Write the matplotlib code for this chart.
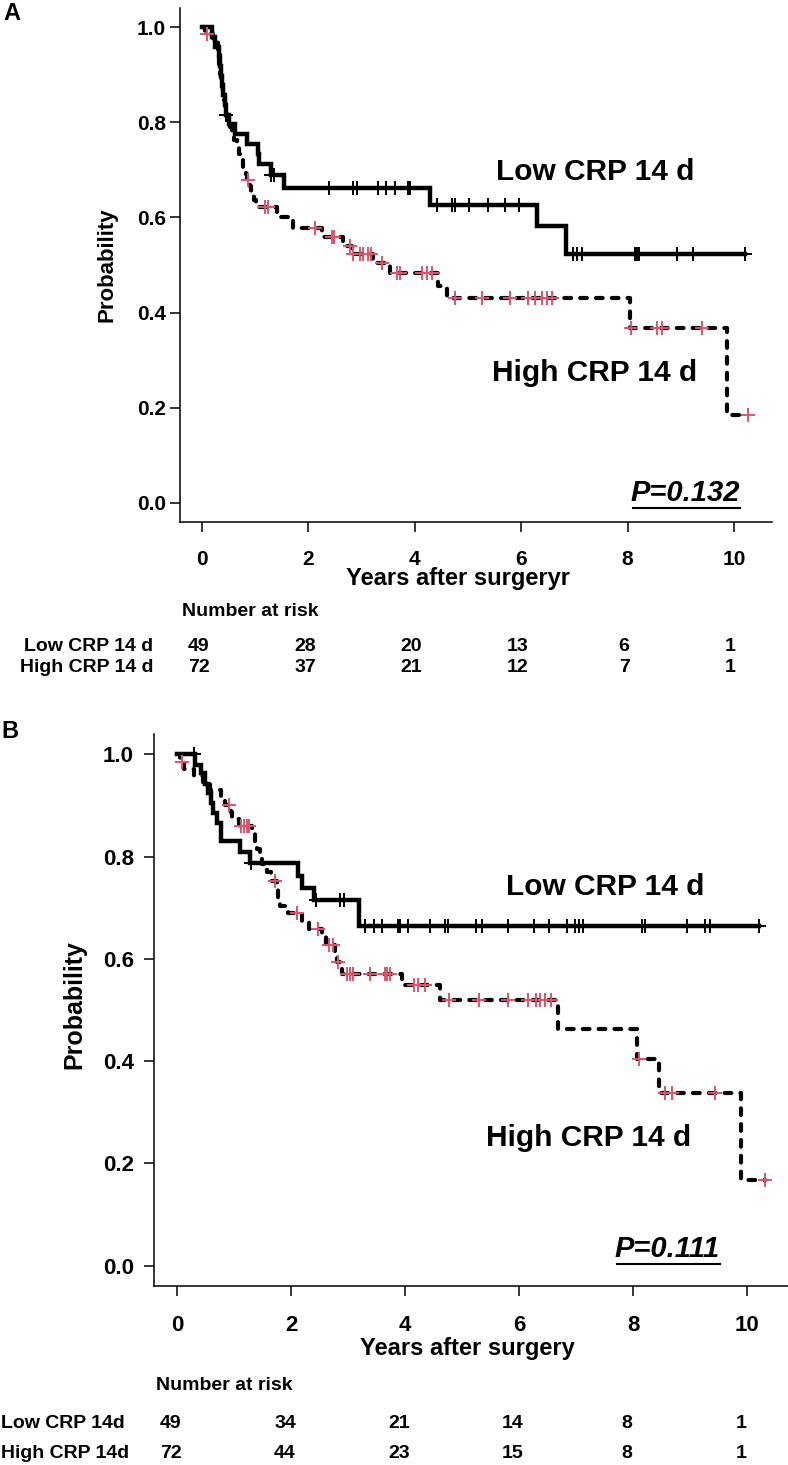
import numpy as np
import matplotlib
matplotlib.use("Agg")
import matplotlib.pyplot as plt
from matplotlib.lines import Line2D

plt.rcParams['font.family'] = ['Liberation Sans', 'DejaVu Sans']
plt.rcParams['font.weight'] = 'bold'

# ---------------- data ----------------
# Panel A
lowA_t = [0, 0.18, 0.25, 0.32, 0.34, 0.36, 0.38, 0.40, 0.43, 0.46, 0.50, 0.63, 0.85, 1.05, 1.08, 1.29, 1.55, 4.29, 6.30, 6.84]
lowA_s = [1.0, 0.980, 0.959, 0.939, 0.918, 0.898, 0.878, 0.857, 0.837, 0.816, 0.796, 0.776, 0.755, 0.733, 0.712, 0.690, 0.662, 0.627, 0.582, 0.523]
lowA_c = [0.46, 1.29, 1.35, 2.39, 2.83, 2.91, 3.31, 3.45, 3.63, 3.87, 3.91, 4.41, 4.69, 4.76, 5.02, 5.38, 5.70, 5.96,
          6.98, 7.04, 7.14, 8.14, 8.18, 8.22, 8.92, 9.22, 10.21]

highA_t = [0, 0.05, 0.20, 0.30, 0.31, 0.32, 0.33, 0.345, 0.36, 0.375, 0.39, 0.41, 0.43, 0.45, 0.48, 0.52, 0.56, 0.60,
           0.65, 0.70, 0.74, 0.78, 0.82, 0.85, 0.90, 0.93, 0.98, 1.02, 1.42, 1.72, 2.25, 2.66, 2.82, 3.21, 3.53, 4.44,
           4.60, 8.05, 9.86]
highA_s = [1.0, 0.986, 0.972, 0.958, 0.944, 0.930, 0.916, 0.902, 0.888, 0.874, 0.860, 0.846, 0.832, 0.818, 0.804,
           0.790, 0.776, 0.762, 0.748, 0.734, 0.720, 0.706, 0.692, 0.679, 0.665, 0.651, 0.636, 0.622, 0.600, 0.577,
           0.558, 0.540, 0.523, 0.504, 0.483, 0.456, 0.430, 0.367, 0.185]
highA_c = [0.09, 0.87, 1.18, 1.25, 2.12, 2.44, 2.48, 2.78, 2.84, 2.97, 3.02, 3.13, 3.17, 3.38, 3.67, 3.73, 4.13, 4.22,
           4.32, 4.76, 5.26, 5.79, 6.13, 6.26, 6.39, 6.48, 6.57, 8.06, 8.55, 8.64, 9.39, 10.27]

# Panel B
lowB_t = [0, 0.32, 0.43, 0.49, 0.55, 0.60, 0.64, 0.70, 0.77, 1.10, 1.28, 2.13, 2.19, 2.40, 3.19]
lowB_s = [1.0, 0.980, 0.963, 0.943, 0.925, 0.905, 0.885, 0.865, 0.830, 0.810, 0.788, 0.762, 0.739, 0.716, 0.664]
lowB_c = [0.29, 1.30, 2.43, 2.86, 2.93, 3.30, 3.46, 3.60, 3.88, 3.92, 4.06, 4.43, 4.70, 4.76, 5.25, 5.35, 5.80,
          6.27, 6.53, 6.84, 6.98, 7.05, 7.13, 8.15, 8.21, 8.94, 9.26, 9.35, 10.21]

highB_t = [0, 0.05, 0.12, 0.29, 0.46, 0.58, 0.78, 0.84, 0.94, 0.97, 1.08, 1.32, 1.36, 1.40, 1.45, 1.50, 1.58, 1.65,
           1.75, 1.77, 1.80, 1.95, 2.19, 2.32, 2.55, 2.62, 2.78, 2.81, 2.90, 3.94, 4.61, 6.69, 8.07, 8.46, 9.89]
highB_s = [1.0, 0.986, 0.972, 0.958, 0.944, 0.930, 0.916, 0.902, 0.888, 0.874, 0.860, 0.845, 0.830, 0.815, 0.800,
           0.785, 0.770, 0.752, 0.735, 0.718, 0.703, 0.690, 0.674, 0.659, 0.643, 0.627, 0.610, 0.593, 0.571, 0.548,
           0.520, 0.462, 0.405, 0.337, 0.168]
highB_c = [0.08, 0.91, 1.12, 1.17, 1.22, 1.27, 1.72, 2.10, 2.48, 2.67, 2.74, 2.83, 2.98, 3.04, 3.09, 3.39, 3.65,
           3.69, 3.74, 4.15, 4.23, 4.35, 4.78, 5.29, 5.81, 6.16, 6.30, 6.37, 6.46, 6.56, 8.10, 8.56, 8.68, 9.44, 10.32]

x_ticks = [0, 2, 4, 6, 8, 10]
y_ticks = [0.0, 0.2, 0.4, 0.6, 0.8, 1.0]
group_labels = ["Low CRP 14 d", "High CRP 14 d"]
risk_labels_A = ["Low CRP 14 d", "High CRP 14 d"]
risk_labels_B = ["Low CRP 14d", "High CRP 14d"]
riskA_low = [49, 28, 20, 13, 6, 1]
riskA_high = [72, 37, 21, 12, 7, 1]
riskB_low = [49, 34, 21, 14, 8, 1]
riskB_high = [72, 44, 23, 15, 8, 1]
p_A = "P=0.132"
p_B = "P=0.111"
xlabel_A = "Years after surgeryr"
xlabel_B = "Years after surgery"

PINK = "#DF536B"
W, H = 788, 1465

fig = plt.figure(figsize=(W / 100, H / 100), dpi=100)


def fx(px):
    return px / W


def fy(py):
    return 1 - py / H


def add_axes_px(left, right, top, bottom):
    return fig.add_axes([fx(left), fy(bottom), (right - left) / W, (bottom - top) / H])


def draw_km(ax, t, s, c, solid, censor_color):
    t = np.asarray(t, float)
    s = np.asarray(s, float)
    c = np.asarray(c, float)
    tend = max(t[-1], c.max())
    tt = np.append(t, tend)
    ss = np.append(s, s[-1])
    if solid:
        ax.step(tt, ss, where='post', color='black', lw=3.2, solid_joinstyle='miter', zorder=3)
    else:
        ax.step(tt, ss, where='post', color='black', lw=3.0, linestyle=(0, (1.6, 2.2)),
                dash_capstyle='round', dash_joinstyle='round', zorder=2)
    idx = np.searchsorted(t, c, side='right') - 1
    ax.plot(c, s[idx], linestyle='none', marker='+', markersize=9.5, markeredgewidth=1.4,
            color=censor_color, zorder=4)


def style_axes(ax, tick_fs, ypad, xpad):
    ax.set_xlim(-0.412, 10.712)
    ax.set_ylim(-0.04, 1.04)
    for sp in ['top', 'right']:
        ax.spines[sp].set_visible(False)
    for sp in ['left', 'bottom']:
        ax.spines[sp].set_linewidth(1.1)
    ax.set_xticks(x_ticks)
    ax.set_xticklabels([str(v) for v in x_ticks])
    ax.set_yticks(y_ticks)
    ax.set_yticklabels([f"{v:.1f}" for v in y_ticks])
    ax.tick_params(axis='both', direction='out', length=7, width=1.1, labelsize=tick_fs)
    ax.tick_params(axis='y', pad=ypad)
    ax.tick_params(axis='x', pad=xpad)


# ---------------- Panel A ----------------
axA = add_axes_px(180, 772, 8, 522)
style_axes(axA, 15, 3, 13)
draw_km(axA, highA_t, highA_s, highA_c, False, PINK)
draw_km(axA, lowA_t, lowA_s, lowA_c, True, 'black')
axA.text(7.39, 0.695, group_labels[0], ha='center', va='center', fontsize=21.5, fontweight='bold')
axA.text(7.37, 0.273, group_labels[1], ha='center', va='center', fontsize=21.5, fontweight='bold')
pA = axA.text(10.11, 0.021, p_A, ha='right', va='center', fontsize=21, fontweight='bold', fontstyle='italic')

fig.text(fx(12), fy(14), "A", ha='center', va='center', fontsize=17, fontweight='bold')
fig.text(fx(107), fy(265), "Probability", rotation=90, ha='center', va='center', fontsize=16, fontweight='bold')
fig.text(fx(458), fy(578), xlabel_A, ha='center', va='center', fontsize=17, fontweight='bold')

fig.text(fx(182), fy(612), "Number at risk", ha='left', va='center', fontsize=14, fontweight='bold')
fig.text(fx(153), fy(646), risk_labels_A[0], ha='right', va='center', fontsize=14, fontweight='bold')
fig.text(fx(153), fy(668), risk_labels_A[1], ha='right', va='center', fontsize=14, fontweight='bold')
for xv, a, b in zip(x_ticks, riskA_low, riskA_high):
    px = 202 + xv * 53.2 - 3.5
    fig.text(fx(px), fy(646), str(a), ha='center', va='center', fontsize=14, fontweight='bold')
    fig.text(fx(px), fy(668), str(b), ha='center', va='center', fontsize=14, fontweight='bold')

# ---------------- Panel B ----------------
axB = add_axes_px(153.5, 787.6, 734, 1286)
style_axes(axB, 16, 7, 14)
draw_km(axB, highB_t, highB_s, highB_c, False, PINK)
draw_km(axB, lowB_t, lowB_s, lowB_c, True, 'black')
axB.text(7.52, 0.74, group_labels[0], ha='center', va='center', fontsize=21.5, fontweight='bold')
axB.text(7.22, 0.25, group_labels[1], ha='center', va='center', fontsize=21.5, fontweight='bold')
pB = axB.text(9.53, 0.033, p_B, ha='right', va='center', fontsize=21, fontweight='bold', fontstyle='italic')

fig.text(fx(10), fy(731), "B", ha='center', va='center', fontsize=17, fontweight='bold')
fig.text(fx(74), fy(1005), "Probability", rotation=90, ha='center', va='center', fontsize=18, fontweight='bold')
fig.text(fx(467), fy(1348), xlabel_B, ha='center', va='center', fontsize=17, fontweight='bold')

fig.text(fx(156), fy(1385), "Number at risk", ha='left', va='center', fontsize=14, fontweight='bold')
fig.text(fx(1), fy(1423), risk_labels_B[0], ha='left', va='center', fontsize=14, fontweight='bold')
fig.text(fx(1), fy(1453), risk_labels_B[1], ha='left', va='center', fontsize=14, fontweight='bold')
for xv, a, b in zip(x_ticks, riskB_low, riskB_high):
    px = 177 + xv * 57 - 6
    fig.text(fx(px), fy(1423), str(a), ha='center', va='center', fontsize=14, fontweight='bold')
    fig.text(fx(px), fy(1453), str(b), ha='center', va='center', fontsize=14, fontweight='bold')

# underline P values
fig.canvas.draw()
renderer = fig.canvas.get_renderer()
for txt in (pA, pB):
    bb = txt.get_window_extent(renderer)
    y = bb.y0 - 1
    fig.add_artist(Line2D([bb.x0 / W + 0.003, bb.x1 / W], [y / H, y / H], color='black', lw=1.5,
                          transform=fig.transFigure))

fig.savefig("out.png", dpi=100)
